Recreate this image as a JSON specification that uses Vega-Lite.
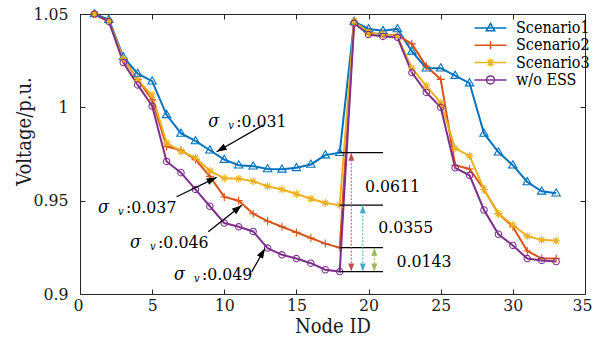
{
  "$schema": "https://vega.github.io/schema/vega-lite/v6.json",
  "width": 505,
  "height": 280,
  "autosize": {"type": "none"},
  "padding": {"left": 80, "top": 14, "right": 8, "bottom": 43},
  "background": "white",
  "config": {
    "font": "DejaVu Serif Condensed",
    "view": {"stroke": "#262626", "strokeWidth": 1},
    "axis": {
      "labelFont": "DejaVu Serif Condensed", "labelFontSize": 17.5, "labelColor": "#1a1a1a",
      "titleFont": "DejaVu Serif Condensed", "titleFontSize": 20, "titleFontWeight": "normal", "titleColor": "#1a1a1a",
      "tickColor": "#262626", "tickSize": -5, "domain": false, "grid": false,
      "labelFlush": true, "labelFlushOffset": 7, "labelOverlap": false
    },
    "legend": {
      "labelFont": "DejaVu Serif Condensed", "labelFontSize": 16, "labelColor": "#000000",
      "symbolStrokeWidth": 1.5, "padding": 0, "rowPadding": 1.3, "labelOffset": 17.5, "symbolSize": 100
    }
  },
  "datasets": {
    "series": [
      {"node":1,"series":"Scenario1","v":1.05},{"node":2,"series":"Scenario1","v":1.047},{"node":3,"series":"Scenario1","v":1.027},{"node":4,"series":"Scenario1","v":1.018},{"node":5,"series":"Scenario1","v":1.014},{"node":6,"series":"Scenario1","v":0.996},{"node":7,"series":"Scenario1","v":0.986},{"node":8,"series":"Scenario1","v":0.982},{"node":9,"series":"Scenario1","v":0.977},{"node":10,"series":"Scenario1","v":0.972},{"node":11,"series":"Scenario1","v":0.969},{"node":12,"series":"Scenario1","v":0.9685},{"node":13,"series":"Scenario1","v":0.967},{"node":14,"series":"Scenario1","v":0.9668},{"node":15,"series":"Scenario1","v":0.9676},{"node":16,"series":"Scenario1","v":0.9694},{"node":17,"series":"Scenario1","v":0.9744},{"node":18,"series":"Scenario1","v":0.9757},{"node":19,"series":"Scenario1","v":1.046},{"node":20,"series":"Scenario1","v":1.042},{"node":21,"series":"Scenario1","v":1.041},{"node":22,"series":"Scenario1","v":1.042},{"node":23,"series":"Scenario1","v":1.030},{"node":24,"series":"Scenario1","v":1.021},{"node":25,"series":"Scenario1","v":1.021},{"node":26,"series":"Scenario1","v":1.017},{"node":27,"series":"Scenario1","v":1.013},{"node":28,"series":"Scenario1","v":0.986},{"node":29,"series":"Scenario1","v":0.976},{"node":30,"series":"Scenario1","v":0.969},{"node":31,"series":"Scenario1","v":0.960},{"node":32,"series":"Scenario1","v":0.955},{"node":33,"series":"Scenario1","v":0.954},
      {"node":1,"series":"Scenario2","v":1.05},{"node":2,"series":"Scenario2","v":1.046},{"node":3,"series":"Scenario2","v":1.026},{"node":4,"series":"Scenario2","v":1.015},{"node":5,"series":"Scenario2","v":1.004},{"node":6,"series":"Scenario2","v":0.979},{"node":7,"series":"Scenario2","v":0.977},{"node":8,"series":"Scenario2","v":0.972},{"node":9,"series":"Scenario2","v":0.963},{"node":10,"series":"Scenario2","v":0.952},{"node":11,"series":"Scenario2","v":0.950},{"node":12,"series":"Scenario2","v":0.943},{"node":13,"series":"Scenario2","v":0.939},{"node":14,"series":"Scenario2","v":0.936},{"node":15,"series":"Scenario2","v":0.933},{"node":16,"series":"Scenario2","v":0.930},{"node":17,"series":"Scenario2","v":0.927},{"node":18,"series":"Scenario2","v":0.9248},{"node":19,"series":"Scenario2","v":1.046},{"node":20,"series":"Scenario2","v":1.040},{"node":21,"series":"Scenario2","v":1.039},{"node":22,"series":"Scenario2","v":1.0385},{"node":23,"series":"Scenario2","v":1.034},{"node":24,"series":"Scenario2","v":1.022},{"node":25,"series":"Scenario2","v":1.015},{"node":26,"series":"Scenario2","v":0.969},{"node":27,"series":"Scenario2","v":0.967},{"node":28,"series":"Scenario2","v":0.956},{"node":29,"series":"Scenario2","v":0.943},{"node":30,"series":"Scenario2","v":0.936},{"node":31,"series":"Scenario2","v":0.923},{"node":32,"series":"Scenario2","v":0.919},{"node":33,"series":"Scenario2","v":0.919},
      {"node":1,"series":"Scenario3","v":1.05},{"node":2,"series":"Scenario3","v":1.046},{"node":3,"series":"Scenario3","v":1.026},{"node":4,"series":"Scenario3","v":1.0145},{"node":5,"series":"Scenario3","v":1.0066},{"node":6,"series":"Scenario3","v":0.981},{"node":7,"series":"Scenario3","v":0.9765},{"node":8,"series":"Scenario3","v":0.973},{"node":9,"series":"Scenario3","v":0.966},{"node":10,"series":"Scenario3","v":0.962},{"node":11,"series":"Scenario3","v":0.9618},{"node":12,"series":"Scenario3","v":0.9604},{"node":13,"series":"Scenario3","v":0.9577},{"node":14,"series":"Scenario3","v":0.956},{"node":15,"series":"Scenario3","v":0.9536},{"node":16,"series":"Scenario3","v":0.951},{"node":17,"series":"Scenario3","v":0.9488},{"node":18,"series":"Scenario3","v":0.9476},{"node":19,"series":"Scenario3","v":1.046},{"node":20,"series":"Scenario3","v":1.040},{"node":21,"series":"Scenario3","v":1.039},{"node":22,"series":"Scenario3","v":1.038},{"node":23,"series":"Scenario3","v":1.021},{"node":24,"series":"Scenario3","v":1.0115},{"node":25,"series":"Scenario3","v":1.0025},{"node":26,"series":"Scenario3","v":0.978},{"node":27,"series":"Scenario3","v":0.974},{"node":28,"series":"Scenario3","v":0.956},{"node":29,"series":"Scenario3","v":0.943},{"node":30,"series":"Scenario3","v":0.937},{"node":31,"series":"Scenario3","v":0.931},{"node":32,"series":"Scenario3","v":0.929},{"node":33,"series":"Scenario3","v":0.9285},
      {"node":1,"series":"w/o ESS","v":1.05},{"node":2,"series":"w/o ESS","v":1.046},{"node":3,"series":"w/o ESS","v":1.024},{"node":4,"series":"w/o ESS","v":1.012},{"node":5,"series":"w/o ESS","v":1.0007},{"node":6,"series":"w/o ESS","v":0.971},{"node":7,"series":"w/o ESS","v":0.965},{"node":8,"series":"w/o ESS","v":0.956},{"node":9,"series":"w/o ESS","v":0.947},{"node":10,"series":"w/o ESS","v":0.938},{"node":11,"series":"w/o ESS","v":0.936},{"node":12,"series":"w/o ESS","v":0.9335},{"node":13,"series":"w/o ESS","v":0.9246},{"node":14,"series":"w/o ESS","v":0.921},{"node":15,"series":"w/o ESS","v":0.919},{"node":16,"series":"w/o ESS","v":0.9165},{"node":17,"series":"w/o ESS","v":0.913},{"node":18,"series":"w/o ESS","v":0.912},{"node":19,"series":"w/o ESS","v":1.045},{"node":20,"series":"w/o ESS","v":1.039},{"node":21,"series":"w/o ESS","v":1.038},{"node":22,"series":"w/o ESS","v":1.0375},{"node":23,"series":"w/o ESS","v":1.0186},{"node":24,"series":"w/o ESS","v":1.008},{"node":25,"series":"w/o ESS","v":1.0},{"node":26,"series":"w/o ESS","v":0.9676},{"node":27,"series":"w/o ESS","v":0.9636},{"node":28,"series":"w/o ESS","v":0.945},{"node":29,"series":"w/o ESS","v":0.932},{"node":30,"series":"w/o ESS","v":0.926},{"node":31,"series":"w/o ESS","v":0.919},{"node":32,"series":"w/o ESS","v":0.918},{"node":33,"series":"w/o ESS","v":0.9174}
    ],
    "levels": [{"y":0.9757},{"y":0.9476},{"y":0.9248},{"y":0.912}],
    "gaps": [
      {"x":18.8,"top":0.9757,"bottom":0.912,"gap":"0.0611"},
      {"x":19.6,"top":0.9476,"bottom":0.912,"gap":"0.0355"},
      {"x":20.4,"top":0.9248,"bottom":0.912,"gap":"0.0143"}
    ],
    "gapLabels": [
      {"x":19.75,"y":0.9548,"text":"0.0611"},
      {"x":20.67,"y":0.9328,"text":"0.0355"},
      {"x":21.94,"y":0.9146,"text":"0.0143"}
    ],
    "sigma": [
      {"x":8.89,"y":0.9896,"val":":0.031"},
      {"x":1.25,"y":0.9432,"val":":0.037"},
      {"x":3.47,"y":0.9244,"val":":0.046"},
      {"x":6.51,"y":0.9075,"val":":0.049"}
    ],
    "arrows": [
      {"id":"a","x":12.70,"y":0.9905,"hx":9.47,"hy":0.9762},
      {"id":"b","x":6.70,"y":0.9521,"hx":9.47,"hy":0.9625},
      {"id":"c","x":8.89,"y":0.9333,"hx":11.21,"hy":0.9476},
      {"id":"d","x":11.90,"y":0.9119,"hx":12.82,"hy":0.9244}
    ],
    "legendSeries": [{"series":"Scenario1"},{"series":"Scenario2"},{"series":"Scenario3"},{"series":"w/o ESS"}]
  },
  "layer": [
    {
      "mark": {"type": "rule", "stroke": "#9a9a9a", "strokeDash": [10, 5], "strokeWidth": 1},
      "encoding": {"y": {"datum": 1, "type": "quantitative", "axis": null}}
    },
    {
      "data": {"name": "series"},
      "mark": {"type": "line", "strokeWidth": 2},
      "encoding": {
        "x": {"field": "node", "type": "quantitative", "scale": {"domain": [0, 35], "nice": false, "zero": false},
              "axis": {"orient": "bottom", "values": [0,5,10,15,20,25,30,35], "title": "Node ID", "labelPadding": 7, "titleY": 38, "titleBaseline": "alphabetic"}},
        "y": {"field": "v", "type": "quantitative", "scale": {"domain": [0.9, 1.05], "nice": false, "zero": false},
              "axis": {"orient": "left", "values": [0.9,0.95,1,1.05], "format": "~g", "title": "Voltage/p.u.", "labelPadding": 17, "labelFlush": false, "titleX": -50, "titleY": 117, "titleBaseline": "alphabetic", "titleAlign": "center"}},
        "stroke": {"field": "series", "type": "nominal", "scale": {"domain": ["Scenario1","Scenario2","Scenario3","w/o ESS"], "range": ["#0072BD","#D95319","#EDB120","#7E2F8E"]}, "legend": null}
      }
    },
    {
      "data": {"name": "series"},
      "mark": {"type": "point", "filled": false, "size": 64, "strokeWidth": 1.1, "opacity": 1},
      "encoding": {
        "x": {"field": "node", "type": "quantitative", "axis": {"orient": "top", "values": [0,5,10,15,20,25,30,35], "labels": false, "title": null}},
        "y": {"field": "v", "type": "quantitative", "axis": {"orient": "right", "values": [0.9,0.95,1,1.05], "labels": false, "title": null}},
        "stroke": {"field": "series", "type": "nominal", "legend": null},
        "shape": {"field": "series", "type": "nominal", "legend": null, "scale": {"domain": ["Scenario1","Scenario2","Scenario3","w/o ESS"], "range": ["M0,-1.1L1.05,0.7L-1.05,0.7Z", "M-1,0H1M0,-1V1", "M-1,0H1M0,-1V1M-0.7,-0.7L0.7,0.7M-0.7,0.7L0.7,-0.7", "M-0.8,0A0.8,0.8,0,1,1,0.8,0A0.8,0.8,0,1,1,-0.8,0"]}}
      }
    },
    {
      "data": {"name": "levels"},
      "mark": {"type": "rule", "stroke": "#000000", "strokeWidth": 1.3},
      "encoding": {
        "x": {"datum": 18, "type": "quantitative", "axis": null},
        "x2": {"datum": 21},
        "y": {"field": "y", "type": "quantitative", "axis": null}
      }
    },
    {
      "data": {"name": "gaps"},
      "mark": {"type": "rule", "strokeWidth": 1, "strokeDash": [2, 1.5]},
      "encoding": {
        "x": {"field": "x", "type": "quantitative", "axis": null},
        "y": {"field": "top", "type": "quantitative", "axis": null},
        "y2": {"field": "bottom"},
        "color": {"field": "gap", "type": "nominal", "legend": null, "scale": {"domain": ["0.0611","0.0355","0.0143"], "range": ["#C0504D","#4BACC6","#9BBB59"]}}
      }
    },
    {
      "data": {"name": "gaps"},
      "mark": {"type": "point", "shape": "M0,0L0.6,1.6L-0.6,1.6Z", "size": 100, "filled": true, "opacity": 1, "angle": 0},
      "encoding": {
        "x": {"field": "x", "type": "quantitative", "axis": null},
        "y": {"field": "top", "type": "quantitative", "axis": null},
        "color": {"field": "gap", "type": "nominal", "legend": null, "scale": {"domain": ["0.0611","0.0355","0.0143"], "range": ["#C0504D","#4BACC6","#9BBB59"]}}
      }
    },
    {
      "data": {"name": "gaps"},
      "mark": {"type": "point", "shape": "M0,0L0.6,1.6L-0.6,1.6Z", "size": 100, "filled": true, "opacity": 1, "angle": 180},
      "encoding": {
        "x": {"field": "x", "type": "quantitative", "axis": null},
        "y": {"field": "bottom", "type": "quantitative", "axis": null},
        "color": {"field": "gap", "type": "nominal", "legend": null, "scale": {"domain": ["0.0611","0.0355","0.0143"], "range": ["#C0504D","#4BACC6","#9BBB59"]}}
      }
    },
    {
      "data": {"name": "gapLabels"},
      "mark": {"type": "text", "align": "left", "baseline": "alphabetic", "font": "DejaVu Serif Condensed", "fontSize": 17.5, "fill": "#000000"},
      "encoding": {
        "x": {"field": "x", "type": "quantitative", "axis": null},
        "y": {"field": "y", "type": "quantitative", "axis": null},
        "text": {"field": "text"}
      }
    },
    {
      "data": {"name": "sigma"},
      "mark": {"type": "text", "align": "left", "baseline": "alphabetic", "font": "DejaVu Serif Condensed", "fontSize": 18, "fontStyle": "italic", "fill": "#000000", "text": "σ"},
      "encoding": {
        "x": {"field": "x", "type": "quantitative", "axis": null},
        "y": {"field": "y", "type": "quantitative", "axis": null}
      }
    },
    {
      "data": {"name": "sigma"},
      "mark": {"type": "text", "align": "left", "baseline": "alphabetic", "font": "DejaVu Serif Condensed", "fontSize": 11, "fontStyle": "italic", "fill": "#000000", "text": "v", "dx": 20, "dy": 2},
      "encoding": {
        "x": {"field": "x", "type": "quantitative", "axis": null},
        "y": {"field": "y", "type": "quantitative", "axis": null}
      }
    },
    {
      "data": {"name": "sigma"},
      "mark": {"type": "text", "align": "left", "baseline": "alphabetic", "font": "DejaVu Serif Condensed", "fontSize": 17.5, "fill": "#000000", "dx": 28},
      "encoding": {
        "x": {"field": "x", "type": "quantitative", "axis": null},
        "y": {"field": "y", "type": "quantitative", "axis": null},
        "text": {"field": "val"}
      }
    },
    {
      "data": {"name": "arrows"},
      "mark": {"type": "rule", "stroke": "#000000", "strokeWidth": 1.3},
      "encoding": {
        "x": {"field": "x", "type": "quantitative", "axis": null},
        "y": {"field": "y", "type": "quantitative", "axis": null},
        "x2": {"field": "hx"},
        "y2": {"field": "hy"}
      }
    },
    {
      "data": {"name": "arrows"},
      "transform": [{"filter": "datum.id == 'a'"}],
      "mark": {"type": "point", "shape": "M0,0L0.7,2L-0.7,2Z", "size": 100, "filled": true, "fill": "#000000", "opacity": 1, "angle": 240},
      "encoding": {
        "x": {"field": "hx", "type": "quantitative", "axis": null},
        "y": {"field": "hy", "type": "quantitative", "axis": null}
      }
    },
    {
      "data": {"name": "arrows"},
      "transform": [{"filter": "datum.id == 'b'"}],
      "mark": {"type": "point", "shape": "M0,0L0.7,2L-0.7,2Z", "size": 100, "filled": true, "fill": "#000000", "opacity": 1, "angle": 64},
      "encoding": {
        "x": {"field": "hx", "type": "quantitative", "axis": null},
        "y": {"field": "hy", "type": "quantitative", "axis": null}
      }
    },
    {
      "data": {"name": "arrows"},
      "transform": [{"filter": "datum.id == 'c'"}],
      "mark": {"type": "point", "shape": "M0,0L0.7,2L-0.7,2Z", "size": 100, "filled": true, "fill": "#000000", "opacity": 1, "angle": 51},
      "encoding": {
        "x": {"field": "hx", "type": "quantitative", "axis": null},
        "y": {"field": "hy", "type": "quantitative", "axis": null}
      }
    },
    {
      "data": {"name": "arrows"},
      "transform": [{"filter": "datum.id == 'd'"}],
      "mark": {"type": "point", "shape": "M0,0L0.7,2L-0.7,2Z", "size": 100, "filled": true, "fill": "#000000", "opacity": 1, "angle": 30},
      "encoding": {
        "x": {"field": "hx", "type": "quantitative", "axis": null},
        "y": {"field": "hy", "type": "quantitative", "axis": null}
      }
    },
    {
      "data": {"name": "legendSeries"},
      "transform": [{"filter": "false"}],
      "mark": {"type": "point", "filled": false, "size": 100, "strokeWidth": 1.5, "opacity": 1},
      "encoding": {
        "color": {"field": "series", "type": "nominal",
                  "scale": {"domain": ["Scenario1","Scenario2","Scenario3","w/o ESS"], "range": ["#0072BD","#D95319","#EDB120","#7E2F8E"]},
                  "legend": {"orient": "none", "legendX": 402.5, "legendY": 6, "title": null}},
        "shape": {"field": "series", "type": "nominal",
                  "scale": {"domain": ["Scenario1","Scenario2","Scenario3","w/o ESS"], "range": ["M-3.2,0H3.2M0,-0.9L0.85,0.55L-0.85,0.55Z", "M-3.2,0H3.2M0,-0.8V0.8", "M-3.2,0H3.2M0,-0.8V0.8M-0.57,-0.57L0.57,0.57M-0.57,0.57L0.57,-0.57", "M-3.2,0H3.2M-0.8,0A0.8,0.8,0,1,1,0.8,0A0.8,0.8,0,1,1,-0.8,0"]},
                  "legend": {"orient": "none", "legendX": 402.5, "legendY": 6, "title": null}}
      }
    }
  ],
  "resolve": {
    "scale": {"shape": "independent", "color": "independent"},
    "axis": {"x": "independent", "y": "independent"}
  }
}
